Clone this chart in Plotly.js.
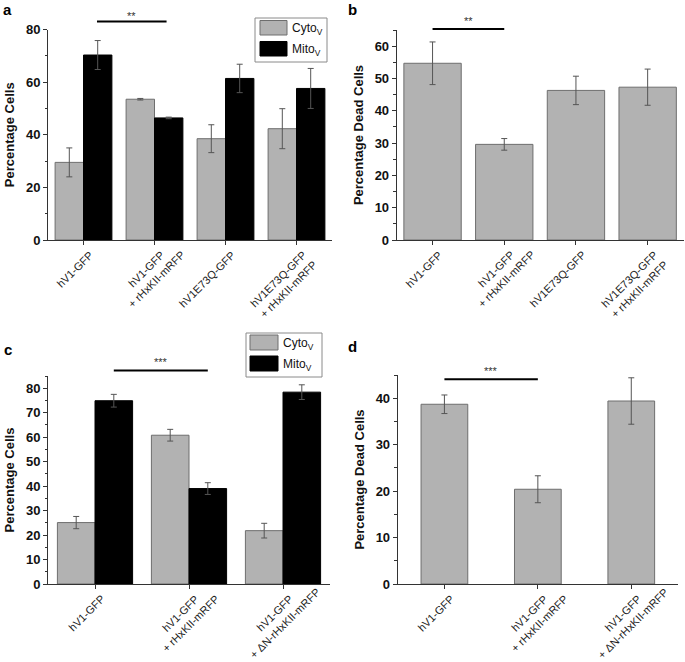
<!DOCTYPE html>
<html>
<head>
<meta charset="utf-8">
<script src="https://cdn.plot.ly/plotly-3.0.1.min.js"></script>
<style>
html,body{margin:0;padding:0;background:#fff;}
#chart{width:685px;height:662px;}
</style>
</head>
<body>
<div id="chart"></div>
<script>
// ---------- data ----------
const catsAB = ['hV1-GFP', 'hV1-GFP<br>+ rHxKII-mRFP', 'hV1E73Q-GFP', 'hV1E73Q-GFP<br>+ rHxKII-mRFP'];
const catsCD = ['hV1-GFP', 'hV1-GFP<br>+ rHxKII-mRFP', 'hV1-GFP<br>+ ΔN-rHxKII-mRFP'];

const aCyto = [29.5, 53.5, 38.5, 42.3];
const aCytoErr = [5.5, 0.3, 5.3, 7.6];
const aMito = [70.3, 46.4, 61.4, 57.6];
const aMitoErr = [5.5, 0.3, 5.4, 7.6];

const bDead = [54.7, 29.6, 46.3, 47.3];
const bDeadErr = [6.6, 1.8, 4.4, 5.6];

const cCyto = [25.1, 60.8, 21.8];
const cCytoErr = [2.5, 2.4, 3.0];
const cMito = [74.9, 39.0, 78.4];
const cMitoErr = [2.6, 2.4, 3.0];

const dDead = [38.7, 20.4, 39.4];
const dDeadErr = [2.0, 2.9, 5.0];

const seriesNames = ['Cyto<sub>V</sub>', 'Mito<sub>V</sub>'];
const panelLabels = ['a', 'b', 'c', 'd'];
const yTitles = ['Percentage Cells', 'Percentage Dead Cells', 'Percentage Cells', 'Percentage Dead Cells'];
const sigText = ['**', '**', '***', '***'];

// ---------- styling / layout helpers ----------
const W = 685, H = 662;
const px = v => v / W;
const py = v => 1 - v / H;
const GRAY = '#b2b2b2', GRAY_LINE = '#6e6e6e', BLACK = '#000000';
const FONT = 'Liberation Sans, Arial, sans-serif';
const XFS = 11;             // x tick label font size
const LH = 1.3 * XFS;       // plotly line spacing

function err(arr) {
  return {type: 'data', array: arr, visible: true, color: '#555', thickness: 1, width: 3};
}

const traces = [
  {type: 'bar', name: seriesNames[0], x: catsAB, y: aCyto, error_y: err(aCytoErr), xaxis: 'x', yaxis: 'y',
   marker: {color: GRAY, line: {color: GRAY_LINE, width: 1}}, showlegend: false},
  {type: 'bar', name: seriesNames[1], x: catsAB, y: aMito, error_y: err(aMitoErr), xaxis: 'x', yaxis: 'y',
   marker: {color: BLACK, line: {color: BLACK, width: 1}}, showlegend: false},
  {type: 'bar', name: 'Dead', x: catsAB, y: bDead, error_y: err(bDeadErr), xaxis: 'x2', yaxis: 'y2', width: 0.8,
   marker: {color: GRAY, line: {color: GRAY_LINE, width: 1}}, showlegend: false},
  {type: 'bar', name: seriesNames[0], x: catsCD, y: cCyto, error_y: err(cCytoErr), xaxis: 'x3', yaxis: 'y3',
   marker: {color: GRAY, line: {color: GRAY_LINE, width: 1}}, showlegend: false},
  {type: 'bar', name: seriesNames[1], x: catsCD, y: cMito, error_y: err(cMitoErr), xaxis: 'x3', yaxis: 'y3',
   marker: {color: BLACK, line: {color: BLACK, width: 1}}, showlegend: false},
  {type: 'bar', name: 'Dead', x: catsCD, y: dDead, error_y: err(dDeadErr), xaxis: 'x4', yaxis: 'y4', width: 0.5,
   marker: {color: GRAY, line: {color: GRAY_LINE, width: 1}}, showlegend: false}
];

function xAxis(domain, n, yId) {
  return {
    domain: domain, anchor: yId, type: 'category', range: [-0.5, n - 0.5],
    showline: true, linecolor: '#333', linewidth: 1, showgrid: false, zeroline: false,
    ticks: 'outside', ticklen: 4, tickcolor: '#333', showticklabels: false,
    minor: {ticks: 'outside', ticklen: 3, tickcolor: '#333', tickmode: 'linear', tick0: 0.5, dtick: 1},
    fixedrange: true
  };
}
function yAxis(domain, xId, range, dtick, title, standoff) {
  return {
    domain: domain, anchor: xId, range: range, dtick: dtick, tick0: 0,
    showline: true, linecolor: '#333', linewidth: 1, showgrid: false, zeroline: false,
    ticks: 'outside', ticklen: 4, tickcolor: '#333',
    tickfont: {family: FONT, size: 13, color: '#111', weight: 'bold'},
    minor: {ticks: 'outside', ticklen: 2.5, tickcolor: '#333', dtick: dtick / 2},
    title: {text: title, font: {family: FONT, size: 13, color: '#111', weight: 'bold'}, standoff: standoff},
    fixedrange: true
  };
}

// significance bars: [xref, yref, x0, x1, yvalue, rangeMax, star centre (px from top)]
const sig = [
  ['x', 'y', 0.19, 1.17, 83.0, 80, 13],
  ['x2', 'y2', 0.0, 1.0, 65.3, 65, 18],
  ['x3', 'y3', 0.2, 1.2, 87.2, 85, 359],
  ['x4', 'y4', 0.0, 1.0, 44.1, 45, 368]
];

const shapes = [];
const annotations = [];
sig.forEach((s, i) => {
  shapes.push({type: 'line', xref: s[0], yref: s[1] + ' domain', x0: s[2], x1: s[3],
    y0: s[4] / s[5], y1: s[4] / s[5], line: {color: '#000', width: 2}});
  annotations.push({xref: s[0], yref: 'paper', x: (s[2] + s[3]) / 2, y: py(s[6] + 3),
    xanchor: 'center', yanchor: 'middle',
    text: sigText[i], showarrow: false, font: {family: FONT, size: 11, color: '#333'}});
});

// rotated category labels: line 1 ends just below-right of the tick, further lines centred under it
const canvas = document.createElement('canvas');
const ctx = canvas.getContext('2d');
ctx.font = XFS + 'px "Liberation Sans", Arial, sans-serif';
const C45 = Math.SQRT1_2;
function catLabels(cats, xref, axisPy) {
  cats.forEach((c, i) => {
    const lines = c.split('<br>');
    const L1 = ctx.measureText(lines[0]).width;
    const n = lines.length;
    const ex = 8, ey = 13; // end of first line relative to tick
    const dx = ex - (L1 / 2) * C45 + ((n - 1) * LH / 2) * C45;
    const dy = ey + (L1 / 2) * C45 + ((n - 1) * LH / 2) * C45;
    annotations.push({xref: xref, yref: 'paper', x: i, y: py(axisPy), xshift: dx, yshift: -dy,
      xanchor: 'center', yanchor: 'middle', textangle: -45, align: 'center', showarrow: false,
      text: c, font: {family: FONT, size: XFS, color: '#222'}});
  });
}
catLabels(catsAB, 'x', 240);
catLabels(catsAB, 'x2', 240);
catLabels(catsCD, 'x3', 584);
catLabels(catsCD, 'x4', 584);

// panel letters
[[8, 10], [352, 10], [8, 349], [352, 346]].forEach((p, i) => {
  annotations.push({xref: 'paper', yref: 'paper', x: px(p[0]), y: py(p[1]), xanchor: 'center', yanchor: 'middle',
    text: '<b>' + panelLabels[i] + '</b>', showarrow: false, font: {family: FONT, size: 15, color: '#000'}});
});

// legend boxes (panels a and c)
function legendBox(x0, y0, x1, y1, sw, rows) {
  shapes.push({type: 'rect', xref: 'paper', yref: 'paper', x0: px(x0), x1: px(x1), y0: py(y1), y1: py(y0),
    line: {color: '#8a8a8a', width: 1}, fillcolor: 'rgba(0,0,0,0)'});
  rows.forEach((r, k) => {
    shapes.push({type: 'rect', xref: 'paper', yref: 'paper', x0: px(sw[0]), x1: px(sw[1]),
      y0: py(r[1]), y1: py(r[0]), line: {color: k === 0 ? GRAY_LINE : '#000', width: 1},
      fillcolor: k === 0 ? GRAY : BLACK});
    annotations.push({xref: 'paper', yref: 'paper', x: px(sw[1] + 3), y: py((r[0] + r[1]) / 2 + 1),
      xanchor: 'left', yanchor: 'middle', text: seriesNames[k], showarrow: false,
      font: {family: FONT, size: 12, color: '#111'}});
  });
}
legendBox(255, 18, 327, 62, [260, 287], [[20.5, 35], [41.5, 56]]);
legendBox(246, 333, 322, 377, [250, 278], [[335, 350], [356, 371]]);

const layout = {
  width: W, height: H,
  margin: {l: 0, r: 0, t: 0, b: 0},
  paper_bgcolor: '#fff', plot_bgcolor: '#fff',
  barmode: 'group', bargap: 0.2, bargroupgap: 0,
  showlegend: false,
  font: {family: FONT},
  xaxis: xAxis([px(48), px(332)], 4, 'y'),
  yaxis: yAxis([py(240), py(29.5)], 'x', [0, 80], 20, yTitles[0], 8),
  xaxis2: xAxis([px(396.7), px(683.5)], 4, 'y2'),
  yaxis2: yAxis([py(240), py(30)], 'x2', [0, 65], 10, yTitles[1], 8),
  xaxis3: xAxis([px(48), px(330)], 3, 'y3'),
  yaxis3: yAxis([py(584), py(376)], 'x3', [0, 85], 10, yTitles[2], 8),
  xaxis4: xAxis([px(397.7), px(678)], 3, 'y4'),
  yaxis4: yAxis([py(584), py(375)], 'x4', [0, 45], 10, yTitles[3], 8),
  shapes: shapes,
  annotations: annotations
};

Plotly.newPlot('chart', traces, layout, {displayModeBar: false, staticPlot: true});
</script>
</body>
</html>
